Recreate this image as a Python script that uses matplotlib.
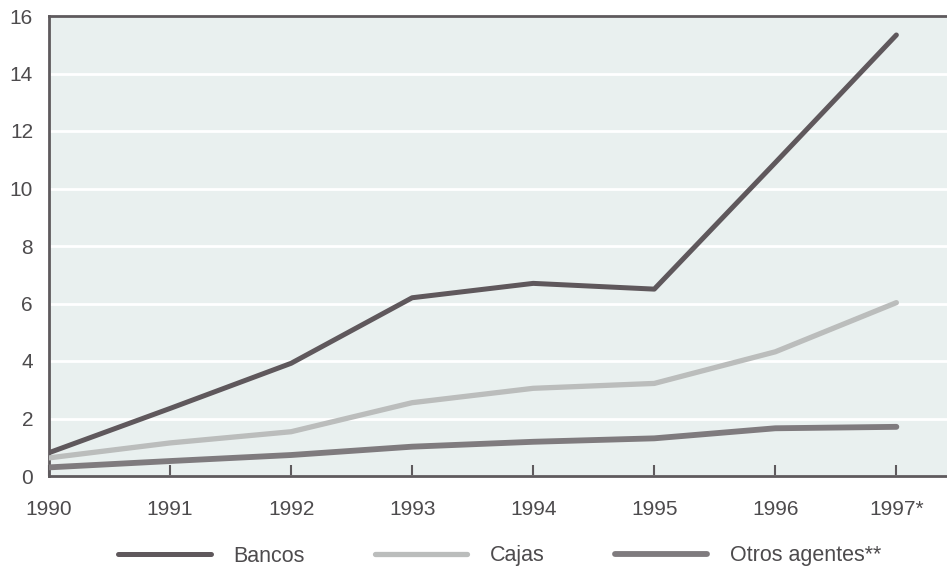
import matplotlib
matplotlib.use("Agg")
import matplotlib.pyplot as plt

# Series values by year
years = [1990, 1991, 1992, 1993, 1994, 1995, 1996, 1997]
year_labels = ["1990", "1991", "1992", "1993", "1994", "1995", "1996", "1997*"]
bancos = [0.81, 2.35, 3.92, 6.2, 6.7, 6.5, 10.9, 15.34]
cajas = [0.63, 1.15, 1.54, 2.55, 3.05, 3.22, 4.32, 6.03]
otros = [0.3, 0.52, 0.73, 1.02, 1.19, 1.31, 1.66, 1.71]
y_ticks = [0, 2, 4, 6, 8, 10, 12, 14, 16]

plt.rcParams["font.family"] = ["Liberation Sans", "DejaVu Sans"]
TEXT = "#4d4b4d"
SPINE = "#5e5a5d"

fig = plt.figure(figsize=(9.47, 5.66), dpi=100)
# axes runs past the right edge of the figure, so the frame is cut off there
ax = fig.add_axes([49 / 947, 90 / 566, 920 / 947, 460 / 566])
ax.set_facecolor("#e9f0ef")

ax.plot(years, bancos, color="#5f585c", linewidth=3.6, label="Bancos",
        solid_capstyle="round", zorder=4)
ax.plot(years, cajas, color="#bbbdbc", linewidth=3.8, label="Cajas",
        solid_capstyle="round", zorder=3)
ax.plot(years, otros, color="#7f7b7e", linewidth=4.2, label="Otros agentes**",
        solid_capstyle="round", zorder=3)

ax.set_xlim(1990, 1997.6)
ax.set_ylim(0, 16)
ax.set_yticks(y_ticks)
ax.set_xticks(years)
ax.set_xticklabels(year_labels)

ax.grid(axis="y", color="white", linewidth=2)
ax.set_axisbelow(True)

for side in ("left", "bottom", "top"):
    ax.spines[side].set_color(SPINE)
    ax.spines[side].set_linewidth(2)
ax.spines["right"].set_visible(False)

ax.tick_params(axis="x", direction="in", length=8, width=1.5, color=SPINE,
               pad=17, labelsize=15, labelcolor=TEXT)
ax.tick_params(axis="y", length=0, pad=11.5, labelsize=15, labelcolor=TEXT)

fig.legend(loc="center left", bbox_to_anchor=(99 / 947, 1 - 556 / 566),
           ncol=3, frameon=False, fontsize=15.5, labelcolor=TEXT,
           handlelength=4.3, handletextpad=1.05, columnspacing=3.25)

fig.savefig("out.png", dpi=100)
